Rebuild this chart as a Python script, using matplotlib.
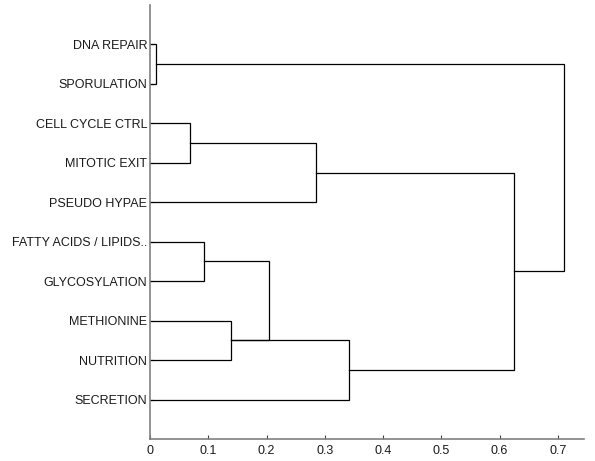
import matplotlib
matplotlib.use("Agg")
import matplotlib.pyplot as plt

labels = ["DNA REPAIR", "SPORULATION", "CELL CYCLE CTRL", "MITOTIC EXIT",
          "PSEUDO HYPAE", "FATTY ACIDS / LIPIDS..", "GLYCOSYLATION",
          "METHIONINE", "NUTRITION", "SECRETION"]

# merges: (left child, right child, height); leaves are 0..9, new nodes 10..18
merge_left = [0, 2, 5, 7, 11, 12, 13, 14, 10]
merge_right = [1, 3, 6, 8, 4, 13, 9, 16, 17]
merge_height = [0.010, 0.069, 0.092, 0.139, 0.285, 0.204, 0.341, 0.624, 0.711]

plt.rcParams["font.family"] = ["Liberation Sans", "DejaVu Sans"]

fig = plt.figure(figsize=(5.95, 4.61), dpi=100)
ax = fig.add_axes([0.2521, 0.0477, 0.7294, 0.9414])

n = len(labels)
ypos = {i: i + 1 for i in range(n)}
xpos = {i: 0.0 for i in range(n)}
for k, (a, b, h) in enumerate(zip(merge_left, merge_right, merge_height)):
    node = n + k
    ax.plot([xpos[a], h, h, xpos[b]], [ypos[a], ypos[a], ypos[b], ypos[b]],
            color="black", lw=0.9, solid_joinstyle="miter")
    ypos[node] = (ypos[a] + ypos[b]) / 2
    xpos[node] = h

ax.set_ylim(n + 1, 0)
ax.set_xlim(0, 0.745)
ax.set_yticks(range(1, n + 1))
ax.set_yticklabels(labels)
ax.set_xticks([0, 0.1, 0.2, 0.3, 0.4, 0.5, 0.6, 0.7])
ax.set_xticklabels(["0", "0.1", "0.2", "0.3", "0.4", "0.5", "0.6", "0.7"])

for side in ["top", "right"]:
    ax.spines[side].set_visible(False)
for side in ["left", "bottom"]:
    ax.spines[side].set_color("#808080")
    ax.spines[side].set_linewidth(1.2)

ax.tick_params(axis="both", direction="in", length=3, width=0.8,
               color="#404040", labelsize=9, labelcolor="#1a1a1a")
ax.tick_params(axis="y", pad=2)
ax.tick_params(axis="x", pad=4)

fig.savefig("out.png", dpi=100)
